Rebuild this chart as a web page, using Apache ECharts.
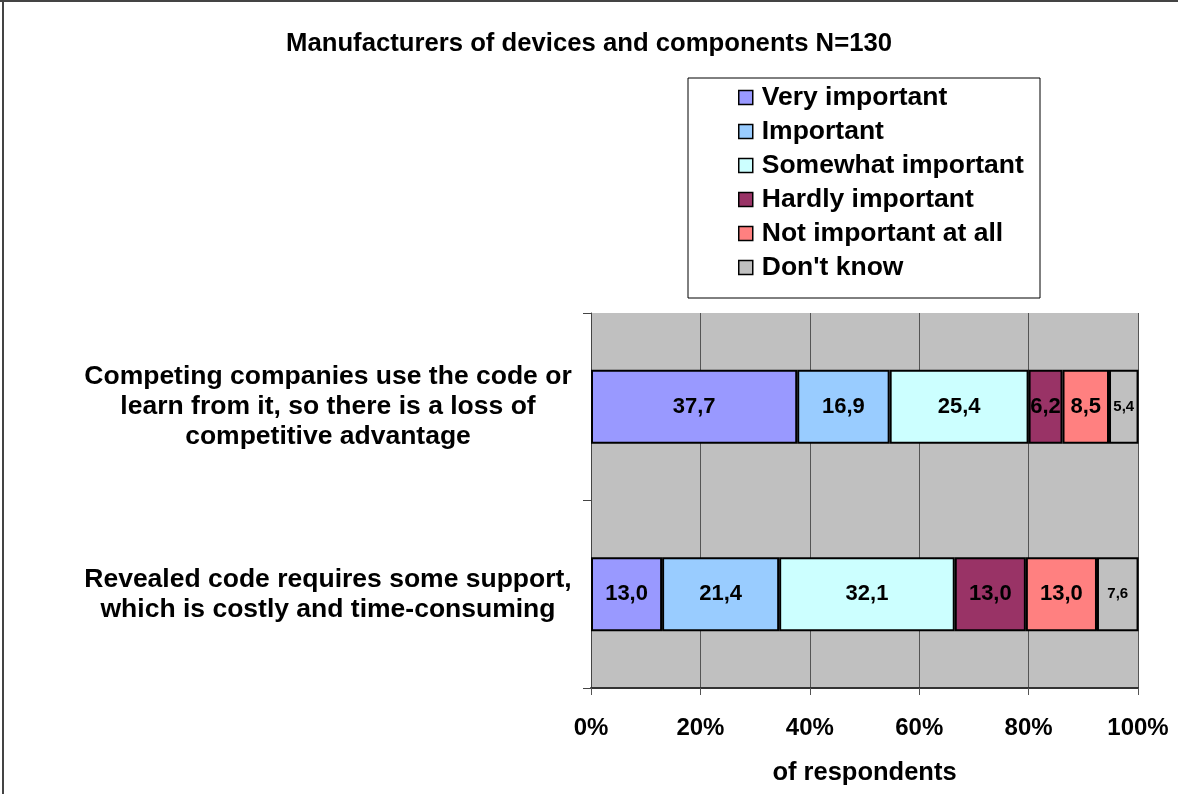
<!DOCTYPE html>
<html>
<head>
<meta charset="utf-8">
<script src="https://cdn.jsdelivr.net/npm/echarts@6/dist/echarts.min.js"></script>
<style>
    html, body { margin: 0; padding: 0; background: #fff; }
    #chart { width: 1178px; height: 794px; }
</style>
</head>
<body>
<div id="chart"></div>
<script>
// data
const categories = [
    'Competing companies use the code or\nlearn from it, so there is a loss of\ncompetitive advantage',
    'Revealed code requires some support,\nwhich is costly and time-consuming'
]
const seriesNames = ['Very important', 'Important', 'Somewhat important', 'Hardly important', 'Not important at all', "Don't know"]
const veryImportant = [37.7, 13.0]
const important = [16.9, 21.4]
const somewhatImportant = [25.4, 32.1]
const hardlyImportant = [6.2, 13.0]
const notImportant = [8.5, 13.0]
const dontKnow = [5.4, 7.6]
const xTicks = [0, 20, 40, 60, 80, 100]

const seriesValues = [veryImportant, important, somewhatImportant, hardlyImportant, notImportant, dontKnow]
const colors = ['#9999FF', '#99CCFF', '#CCFFFF', '#993366', '#FF8080', '#C0C0C0']
const font = '"Liberation Sans", Arial, sans-serif'

let chartDom = document.getElementById('chart');
let myChart = echarts.init(chartDom);

let series = seriesValues.map((values, i) => {
    let small = i === 5
    return {
        name: seriesNames[i],
        type: 'bar',
        stack: 'total',
        barWidth: 74,
        data: values,
        itemStyle: {color: colors[i], borderColor: '#000', borderWidth: 2},
        label: {
            show: true,
            position: 'inside',
            color: '#000',
            fontFamily: font,
            fontWeight: 'bold',
            fontSize: small ? 15 : 22,
            formatter: (p) => p.value.toFixed(1).replace('.', ',')
        }
    }
})

let option = {
    animation: false,
    textStyle: {fontFamily: font},
    title: {
        text: 'Manufacturers of devices and components N=130',
        left: 'center',
        top: 26,
        textStyle: {fontFamily: font, fontWeight: 'bold', fontSize: 25.7, color: '#000'}
    },
    legend: {
        orient: 'vertical',
        left: 738,
        top: 84,
        padding: 0,
        itemGap: 7,
        itemWidth: 14,
        itemHeight: 14,
        icon: 'rect',
        data: seriesNames,
        itemStyle: {borderColor: '#000', borderWidth: 1.5},
        textStyle: {
            fontFamily: font, fontWeight: 'bold', fontSize: 26.5, lineHeight: 26, color: '#000',
            padding: [0, 0, 0, 4]
        }
    },
    grid: {
        left: 591,
        right: 40,
        top: 313,
        bottom: 106,
        show: true,
        backgroundColor: '#C0C0C0',
        borderWidth: 0
    },
    xAxis: {
        type: 'value',
        min: 0,
        max: 100,
        interval: 20,
        name: 'of respondents',
        nameLocation: 'middle',
        nameGap: 72,
        nameTextStyle: {fontFamily: font, fontWeight: 'bold', fontSize: 25.5, color: '#000'},
        axisLine: {show: true, lineStyle: {color: '#333', width: 2}},
        axisTick: {show: true, length: 7, lineStyle: {color: '#555', width: 1}},
        splitLine: {show: true, lineStyle: {color: '#555', width: 1}},
        axisLabel: {
            margin: 28,
            fontFamily: font,
            fontWeight: 'bold',
            fontSize: 24,
            color: '#000',
            formatter: (v) => xTicks.includes(v) ? v + '%' : ''
        }
    },
    yAxis: {
        type: 'category',
        inverse: true,
        data: categories,
        axisLine: {show: true, lineStyle: {color: '#444', width: 1}},
        axisTick: {show: true, length: 8, lineStyle: {color: '#444'}},
        splitLine: {show: false},
        axisLabel: {
            margin: 263,
            align: 'center',
            fontFamily: font,
            fontWeight: 'bold',
            fontSize: 26.5,
            lineHeight: 30,
            padding: [8, 0, 0, 0],
            color: '#000'
        }
    },
    graphic: [
        {type: 'rect', z: -1, shape: {x: 688, y: 78, width: 352, height: 220}, style: {fill: '#fff', stroke: '#000', lineWidth: 1}},
        {type: 'line', shape: {x1: 0, y1: 1, x2: 1178, y2: 1}, style: {stroke: '#444', lineWidth: 2}},
        {type: 'line', shape: {x1: 3, y1: 0, x2: 3, y2: 794}, style: {stroke: '#444', lineWidth: 2}}
    ],
    series: series
};

myChart.setOption(option);

window.addEventListener('resize', () => {
    myChart.resize()
})
</script>
</body>
</html>
